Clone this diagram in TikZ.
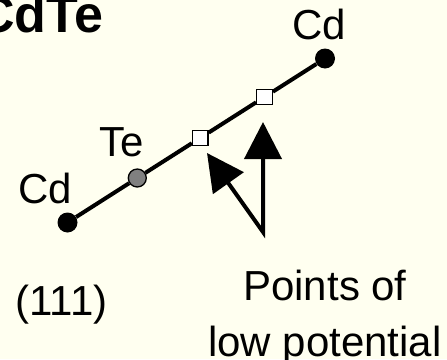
\documentclass[tikz,border=0pt]{standalone}
\usepackage{fontspec}
\setmainfont{Liberation Sans}
\usetikzlibrary{arrows.meta}
\definecolor{bgcream}{RGB}{255,255,240}
\definecolor{tegrey}{RGB}{128,128,128}

\begin{document}
\begin{tikzpicture}[x=1pt,y=-1pt,
  cd/.style={circle,fill=black,inner sep=0pt,minimum size=20pt},
  te/.style={circle,draw=black,line width=1.3pt,fill=tegrey,inner sep=0pt,minimum size=18pt},
  site/.style={rectangle,draw=black,line width=1.3pt,fill=white,inner sep=0pt,minimum size=15.5pt},
  lab/.style={inner sep=0pt,font=\fontsize{42}{56}\selectfont},
  bond/.style={line width=4pt},
  ptr/.style={line width=4pt,miter limit=20,{Triangle[length=37pt,width=37pt]}-{Triangle[length=37pt,width=37pt]}}]
\fill[bgcream] (0,0) rectangle (447,359);
\useasboundingbox (0,0) rectangle (447,359);
% --- title ---
\node[inner sep=0pt,anchor=base east,font=\fontsize{52}{60}\selectfont\bfseries] (title) at (103.5,32) {CdTe};
% --- atoms along the chain ---
\node[cd]   (cdl) at (67.5,222.5) {};
\node[te]   (te)  at (137.3,178.0) {};
\node[site] (sq1) at (200.3,137.9) {};
\node[site] (sq2) at (264.5,97.0) {};
\node[cd]   (cdr) at (325,58.5) {};
\draw[bond] (cdl) -- (te) -- (sq1) -- (sq2) -- (cdr);
% --- labels ---
\node[lab,anchor=base] (lcdr) at (319,39.5) {Cd};
\node[lab,anchor=base] (lte)  at (122,156) {Te};
\node[lab,anchor=base] (lcdl) at (45,203) {Cd};
\node[lab,anchor=base] (dir)  at (61.5,315) {(111)};
\node[lab,anchor=north,align=center] (low) at (325,270) {Points of\\low potential};
% --- pointers to the low-potential sites ---
\coordinate (foot) at (263,232);
\coordinate (tipa) at (207,153);
\coordinate (tipb) at (263,122);
\draw[ptr] (tipa) -- (foot) -- (tipb);
\end{tikzpicture}
\end{document}
